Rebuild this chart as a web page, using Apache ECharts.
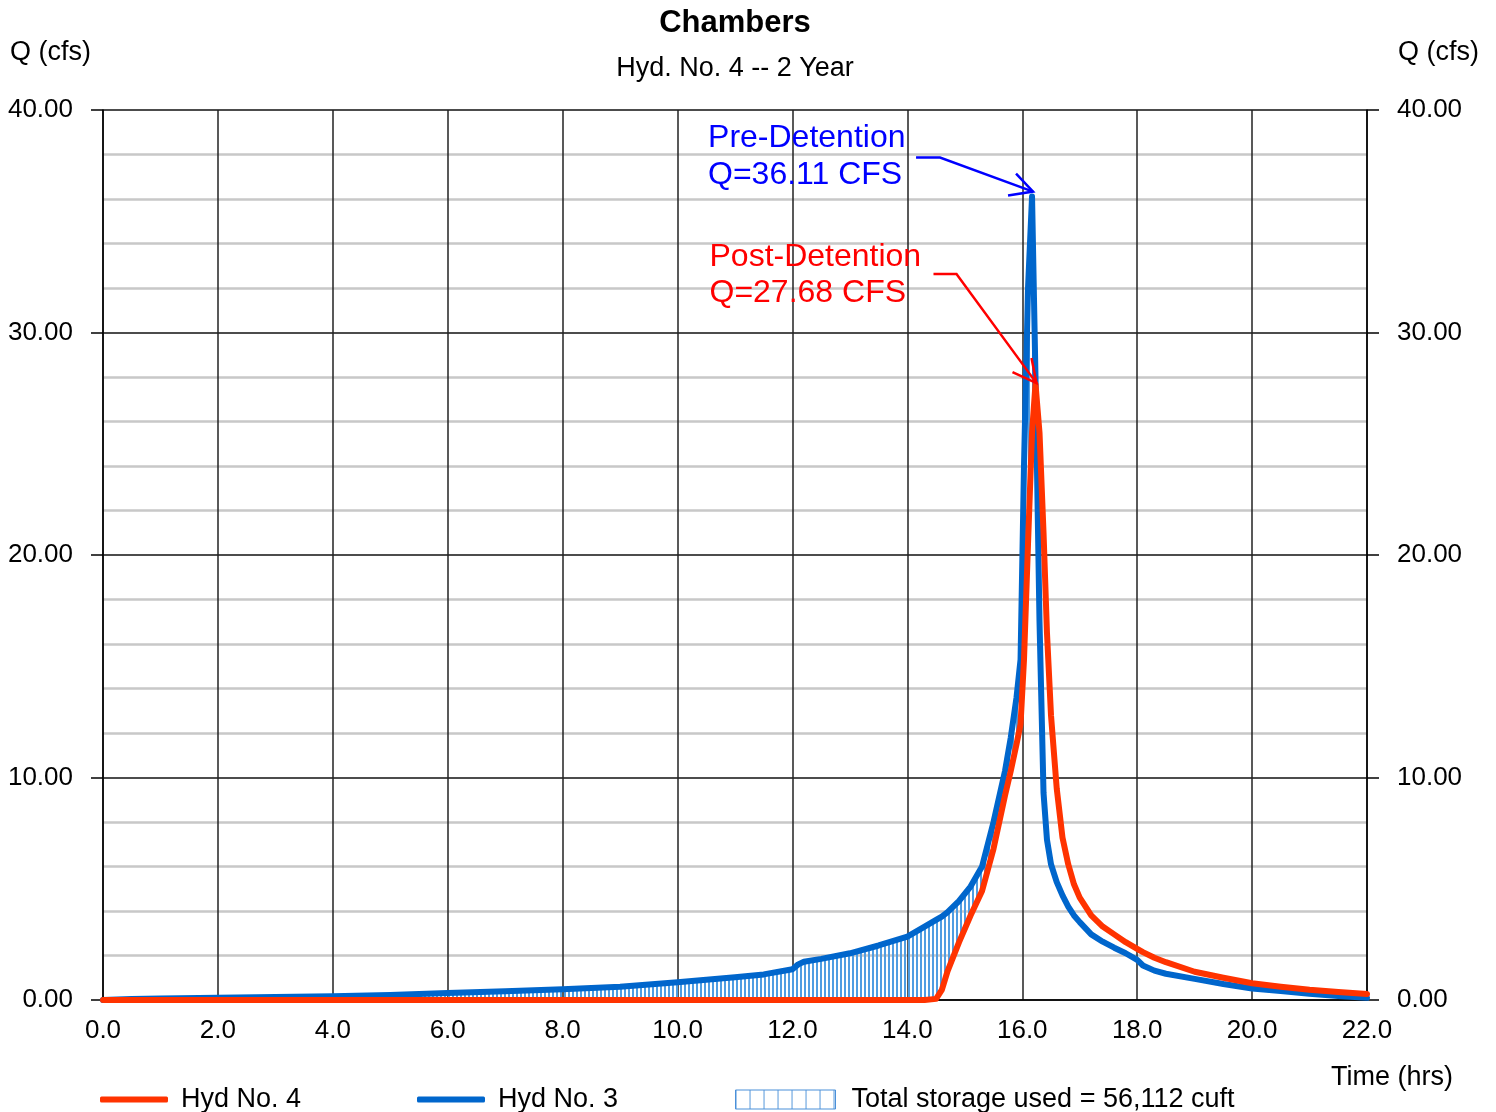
<!DOCTYPE html>
<html>
<head>
<meta charset="utf-8">
<title>Chambers</title>
<script src="https://cdn.jsdelivr.net/npm/echarts@6/dist/echarts.min.js"></script>
<style>
  html, body { margin: 0; padding: 0; background: #fff; }
  #main { width: 1496px; height: 1112px; }
</style>
</head>
<body>
<div id="main"></div>
<script>
// time (hrs) shared by both hydrographs
var hours = [0, 0.5, 1, 2, 3, 4, 5, 6, 7, 8, 9, 10, 11, 11.5, 12.0, 12.1, 12.2, 12.5, 13, 13.5, 14,
  14.3, 14.5, 14.6, 14.7, 14.9, 15.1, 15.3, 15.5, 15.7, 15.8, 15.9, 15.97, 16.03, 16.1, 16.17, 16.23,
  16.3, 16.37, 16.43, 16.5, 16.6, 16.7, 16.8, 16.9, 17.0, 17.2, 17.4, 17.6, 17.8, 18.0, 18.1, 18.3,
  18.5, 19.0, 19.5, 20.0, 20.5, 21.0, 21.5, 22.0];
// Hyd No. 3 (pre-detention inflow), cfs
var hyd3 = [0, 0.05, 0.07, 0.1, 0.13, 0.17, 0.23, 0.31, 0.39, 0.48, 0.6, 0.8, 1.02, 1.15, 1.38, 1.6, 1.72, 1.85, 2.1, 2.45, 2.85,
  3.3, 3.6, 3.75, 3.95, 4.45, 5.1, 6.0, 8.0, 10.3, 11.8, 13.6, 15.3, 24.0, 32.0, 36.11, 28.0,
  17.0, 9.3, 7.2, 6.1, 5.3, 4.7, 4.2, 3.8, 3.5, 2.95, 2.62, 2.35, 2.1, 1.8, 1.55, 1.32,
  1.18, 0.95, 0.72, 0.52, 0.4, 0.28, 0.18, 0.1];
// Hyd No. 4 (post-detention outflow), cfs
var hyd4 = [0, 0, 0, 0, 0, 0, 0, 0, 0, 0, 0, 0, 0, 0, 0, 0, 0, 0, 0, 0, 0,
  0, 0.05, 0.45, 1.3, 2.6, 3.8, 4.9, 6.8, 9.2, 10.3, 11.5, 12.4, 15.3, 20.5, 25.5, 27.68,
  25.5, 21.0, 16.5, 12.8, 9.5, 7.3, 6.1, 5.2, 4.6, 3.8, 3.3, 2.95, 2.6, 2.3, 2.15, 1.9,
  1.7, 1.27, 1.0, 0.75, 0.6, 0.46, 0.36, 0.27];

var xTicks = [0, 22, 2];      // min, max, step (hrs)
var yTicks = [0, 40, 10, 5];  // min, max, major step, minor splits
var storageLabel = 'Total storage used = 56,112 cuft';
var prePeak = { t: 16.17, q: 36.11 };
var postPeak = { t: 16.23, q: 27.68 };

var FONT = 'Liberation Sans, Arial, sans-serif';
var RED = '#ff3300', BLUE = '#0066cc';

function hatch(step, lineW, color, h) {
  var c = document.createElement('canvas');
  c.width = step; c.height = h;
  var ctx = c.getContext('2d');
  ctx.fillStyle = color;
  ctx.fillRect(0, 0, lineW, h);
  return { image: c, repeat: 'repeat' };
}
var fillHatch = hatch(4, 2, '#4f9de2', 4);
var iconHatch = hatch(14, 1, '#4a90d9', 40);

var chart = echarts.init(document.getElementById('main'));

var txt = { fontFamily: FONT, fontSize: 27, color: '#000', fontWeight: 'normal' };
var axTxt = { fontFamily: FONT, fontSize: 26, color: '#000' };

var option = {
  animation: false,
  backgroundColor: '#fff',
  title: [
    { text: 'Chambers', left: 735, textAlign: 'center', top: 8, padding: 0,
      textStyle: { fontFamily: FONT, fontSize: 31, fontWeight: 'bold', color: '#000' } },
    { text: 'Hyd. No. 4 -- 2 Year', left: 735, textAlign: 'center', top: 55, padding: 0, textStyle: txt },
    { text: 'Q (cfs)', left: 10, top: 39, padding: 0, textStyle: txt },
    { text: 'Q (cfs)', left: 1398, top: 39, padding: 0, textStyle: txt },
    { text: 'Time (hrs)', left: 1331, top: 1064, padding: 0, textStyle: txt }
  ],
  legend: [
    { left: 100, top: 1086, padding: 0, itemWidth: 68, itemHeight: 6, icon: 'roundRect',
      data: ['Hyd No. 4'], textStyle: Object.assign({ padding: [0, 0, 0, 8] }, txt) },
    { left: 417, top: 1086, padding: 0, itemWidth: 68, itemHeight: 6, icon: 'roundRect',
      data: ['Hyd No. 3'], textStyle: Object.assign({ padding: [0, 0, 0, 8] }, txt) },
    { left: 735, top: 1086, padding: 0, itemWidth: 100, itemHeight: 19,
      data: [{ name: storageLabel, icon: 'rect',
        itemStyle: { color: iconHatch, borderColor: '#4a90d9', borderWidth: 1 } }],
      textStyle: Object.assign({ padding: [0, 0, 0, 11] }, txt) }
  ],
  grid: { left: 103, right: 129, top: 110, bottom: 112, containLabel: false },
  xAxis: {
    type: 'value', min: xTicks[0], max: xTicks[1], interval: xTicks[2],
    axisLine: { lineStyle: { color: '#000', width: 1.5 } },
    axisTick: { show: false },
    axisLabel: Object.assign({ margin: 18, formatter: function (v) { return v.toFixed(1); } }, axTxt),
    splitLine: { show: true, lineStyle: { color: '#222', width: 1.5 } }
  },
  yAxis: [
    { type: 'value', position: 'left', min: yTicks[0], max: yTicks[1], interval: yTicks[2],
      axisLine: { show: true, lineStyle: { color: '#000', width: 1.5 } },
      axisTick: { show: true, length: 12, lineStyle: { color: '#000', width: 1.5 } },
      axisLabel: Object.assign({ margin: 30, formatter: function (v) { return v.toFixed(2); } }, axTxt),
      splitLine: { show: true, lineStyle: { color: '#111', width: 1.5 } },
      minorTick: { show: false, splitNumber: yTicks[3] },
      minorSplitLine: { show: true, lineStyle: { color: '#c8c8c8', width: 2.5 } } },
    { type: 'value', position: 'right', min: yTicks[0], max: yTicks[1], interval: yTicks[2],
      axisLine: { show: true, lineStyle: { color: '#000', width: 1.5 } },
      axisTick: { show: true, length: 12, lineStyle: { color: '#000', width: 1.5 } },
      axisLabel: Object.assign({ margin: 30, formatter: function (v) { return v.toFixed(2); } }, axTxt),
      splitLine: { show: false } }
  ],
  series: [
    {
      name: storageLabel, type: 'custom', data: [[0, 0]], silent: true, z: 1,
      itemStyle: { color: '#5aa3e4' },
      renderItem: function (params, api) {
        var upper = hours.map(function (h, i) { return api.coord([h, Math.max(hyd3[i], hyd4[i])]); });
        var lower = hours.map(function (h, i) { return api.coord([h, hyd4[i]]); }).reverse();
        return { type: 'polygon', shape: { points: upper.concat(lower) }, style: { fill: fillHatch } };
      }
    },
    {
      name: 'Hyd No. 3', type: 'line', showSymbol: false, z: 2,
      data: hours.map(function (h, i) { return [h, hyd3[i]]; }),
      itemStyle: { color: BLUE },
      lineStyle: { color: BLUE, width: 6, cap: 'round', join: 'round' }
    },
    {
      name: 'Hyd No. 4', type: 'line', showSymbol: false, z: 3,
      data: hours.map(function (h, i) { return [h, hyd4[i]]; }),
      itemStyle: { color: RED },
      lineStyle: { color: RED, width: 6, cap: 'round', join: 'round' }
    }
  ]
};
chart.setOption(option);

// callouts anchored to the peaks
function callout(peak, dx, dy, color, line1, line2, pts, arms, textDx, textDy) {
  var p = chart.convertToPixel({ gridIndex: 0 }, [peak.t, peak.q]);
  var tip = [p[0] + dx, p[1] + dy];
  function rel(o) { return [tip[0] + o[0], tip[1] + o[1]]; }
  var els = [];
  els.push({ type: 'polyline', z: 100, shape: { points: pts.map(rel).concat([tip]) },
    style: { stroke: color, lineWidth: 2.5, fill: null } });
  els.push({ type: 'polyline', z: 100, shape: { points: [rel(arms[0]), tip, rel(arms[1])] },
    style: { stroke: color, lineWidth: 2.5, fill: null } });
  els.push({ type: 'text', z: 100, x: tip[0] + textDx, y: tip[1] + textDy[0],
    style: { text: line1, fill: color, font: '32px ' + FONT, textVerticalAlign: 'middle' } });
  els.push({ type: 'text', z: 100, x: tip[0] + textDx, y: tip[1] + textDy[1],
    style: { text: line2, fill: color, font: '32px ' + FONT, textVerticalAlign: 'middle' } });
  return els;
}

var g = []
  .concat(callout(prePeak, 1, -5, '#0000ff', 'Pre-Detention', 'Q=' + prePeak.q.toFixed(2) + ' CFS',
    [[-117, -34], [-93, -34]], [[-17, -18], [-25, 4]], -325, [-53, -16]))
  .concat(callout(postPeak, 1, -1, '#ff0000', 'Post-Detention', 'Q=' + postPeak.q.toFixed(2) + ' CFS',
    [[-103, -109], [-80, -109]], [[-24, -11], [-5, -25]], -327, [-126, -90]));
chart.setOption({ graphic: g });
</script>
</body>
</html>
